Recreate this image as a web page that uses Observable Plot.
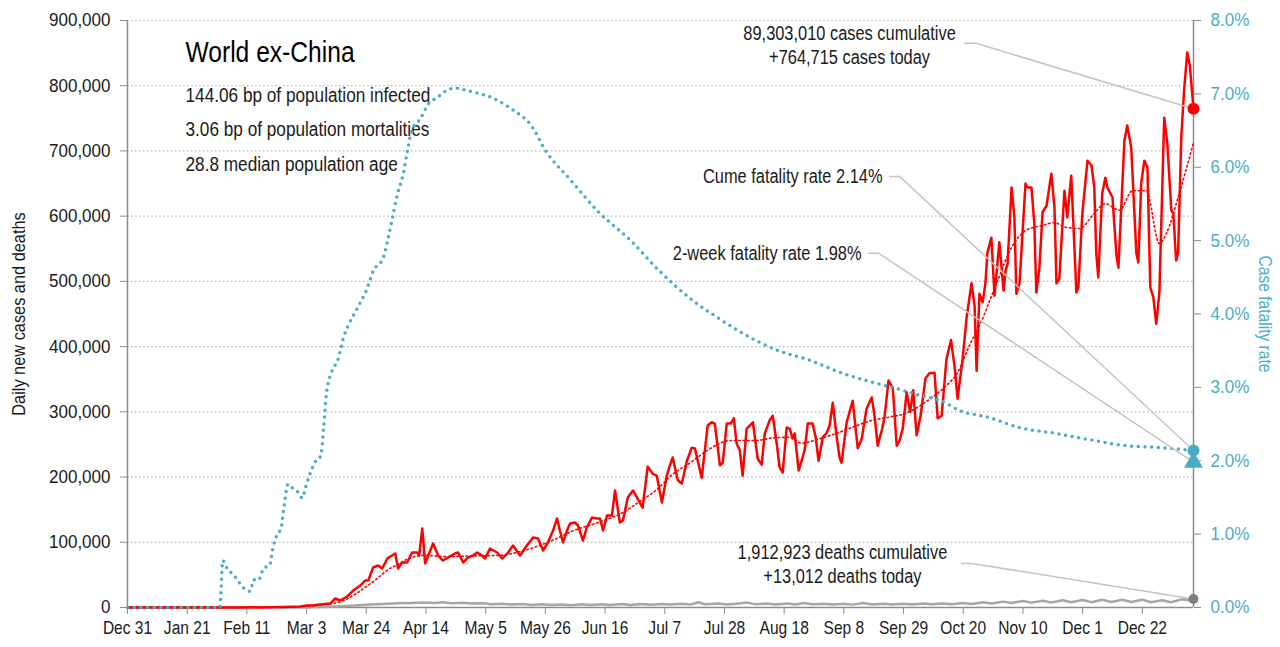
<!DOCTYPE html>
<html><head><meta charset="utf-8">
<script src="https://cdn.jsdelivr.net/npm/d3@7"></script>
<script src="https://cdn.jsdelivr.net/npm/@observablehq/plot@0.6"></script>
<style>
html,body{margin:0;padding:0;background:#fff;}
</style></head><body><div id="chart"></div>
<script>
// ---- data (day offsets since 2019-12-31; values in thousands / percent) ----
const startDate = new Date(Date.UTC(2019, 11, 31));
const lastDay = 375;
const tickDays = [0,21,42,63,84,105,126,147,168,189,210,231,252,273,294,315,336,357];

const dailyCases = [[0,0],[20,0.01],[30,0.05],[40,0.1],[50,0.3],[55,0.8],[58,1.2],[60.8,1.5],[63,3],[65.5,3.5],[67.8,4.6],[71.3,6.1],[73.1,13.8],[74.8,10.7],[77.3,16.9],[79.4,26],[81.9,33.7],[83.6,41.4],[84.7,41.4],[86.4,61.3],[88.2,64.4],[89.6,59.8],[91.4,75.1],[94.2,82.8],[95.2,59.8],[96.6,69],[98.4,69],[100.1,84.3],[101.9,84.3],[102.6,79.7],[103.7,121],[104.7,67.5],[105.8,79.7],[107.5,98.1],[109.3,79.7],[111,72],[112.8,76.7],[115.2,82.8],[116.3,84.3],[118.1,69],[119.8,76.7],[121.6,79.7],[123,84.3],[124.7,79.7],[125.8,75.1],[127.5,90.5],[130,84.3],[131.8,75.1],[133.9,84.3],[135.6,95.1],[138.1,79.7],[140.5,95.1],[142.7,107.3],[144.4,105.8],[146.2,87.4],[147.9,99.7],[149.7,118],[151.1,136.5],[152.1,118],[153.2,99.7],[154.6,118],[155.7,128.8],[157.4,130.3],[158.5,125.7],[160.2,102.7],[161.6,122.7],[163.4,138],[165.1,136.5],[166.2,136.5],[167.3,118],[168.7,141],[170.4,141],[171.5,179.4],[173.2,130.3],[174.3,133.4],[176,168.7],[177.8,179.4],[179.2,168.7],[181.2,153],[183,216],[184.8,205],[186.2,202],[188,161],[189.7,202],[190.8,218],[191.8,230],[193.6,195],[195,190],[196.8,225],[198.5,245],[199.6,244],[200.6,225],[202,199],[204.1,279],[205.5,284],[206.6,282],[208.4,218],[209.4,222],[210.8,282],[212.2,282],[213.3,290],[214.3,251],[215.4,241],[216.4,202],[217.8,274],[220,284],[221.7,228],[223.1,219],[224.2,267],[225.9,287],[227,294],[228.4,251],[229.4,215],[230.5,207],[231.9,276],[233,274],[234,259],[234.7,267],[236.1,210],[238.2,241],[239.3,282],[241,282],[242.1,261],[243.1,225],[244.6,261],[246,268],[247,279],[248.1,314],[249.5,261],[250.5,230],[251.2,222],[253,284],[255.1,317],[256.9,244],[258.3,259],[260,305],[261.8,322],[262.8,294],[263.9,248],[265.3,271],[266.3,291],[267.7,348],[269.2,337],[270.6,248],[271.6,256],[272.7,274],[274.1,330],[275.3,300],[276.4,333],[277.6,264],[279,294],[280.7,351],[282.1,359],[283.9,360],[285,290],[286.4,294],[288.1,381],[289.7,410],[291,368],[292,320],[293.7,378],[295.2,445],[296.9,497],[298,462],[298.7,363],[299.7,481],[300.8,468],[301.8,497],[302.5,544],[303.9,567],[305,478],[306.7,560],[308.2,486],[308.9,517],[309.6,527],[311,644],[312,598],[312.7,481],[313.8,497],[315.9,650],[316.6,644],[318,644],[319,589],[319.7,483],[320.8,521],[321.9,606],[323.3,616],[325,665],[326.1,613],[326.8,497],[327.8,504],[329.6,639],[330.6,598],[332,662],[333.8,483],[334.5,491],[335.9,604],[337.7,685],[339.1,678],[340.1,644],[340.8,543],[341.5,506],[342.9,635],[344,659],[344.7,644],[346.5,629],[347.9,540],[348.6,521],[350.7,716],[351.7,739],[353.1,705],[354.9,543],[355.6,529],[356.6,650],[357.7,685],[358.8,675],[359.8,491],[360.9,475],[361.9,435],[363,483],[364.7,751],[365.8,711],[367.2,609],[367.9,604],[368.9,532],[369.6,544],[370.7,721],[371.7,793],[372.8,851],[373.7,831],[375,764.715]];

const weeklyAvgCases = [[0,0],[55,0.5],[60,1],[65,2.5],[70,5],[75,9],[80,20],[84,32],[88,45],[91,56],[95,66],[99,75],[104,80],[112,78],[120,79],[131,80],[140,88],[149,102],[157,118],[166,131],[174,145],[180,162],[186,180],[192,205],[198,222],[204,241],[212,256],[221,256],[227,260],[233,261],[237,252],[243,258],[250,268],[256,278],[262,287],[268,292],[274,298],[279,310],[283,322],[288,340],[292,360],[296,400],[300,435],[305.7,497],[311,552],[316,578],[322,586],[326,590],[330,583],[335,581],[339.5,601],[344,619],[349,609],[353.5,639],[358.4,639],[363,558],[365.4,573],[370,635],[375,713]];

const dailyDeaths = [[0,0],[50,0],[58,0.1],[65,0.4],[70,1],[75,2],[80,3],[85,4.5],[90,5.5],[95,6.5],[100,7],[104,7.5],[108,7],[111,8.2],[114,6.5],[118,7.2],[121,6],[125,6.5],[128,5],[132,5.8],[135,4.5],[139,5.2],[142,4],[146,4.8],[149,3.8],[153,4.6],[156,3.5],[160,4.8],[163,3.8],[167,5],[170,4],[174,5.2],[177,4],[181,5.5],[184,4.2],[188,5.5],[191,4.5],[195,5.8],[198,4.6],[201,8],[203,4.8],[208,6],[211,4.5],[215,6],[218,7.5],[221,4.8],[225,6],[228,4.5],[232,6],[235,4.5],[238,7],[241,4.8],[245,5.8],[248,4.5],[252,5.6],[255,4.4],[259,7],[262,4.6],[266,5.8],[269,4.5],[273,5.8],[276,4.6],[280,6],[283,4.8],[287,6.2],[290,5],[294,7],[297,5.5],[301,8],[304,6.2],[308,9],[311,7],[315,10],[318,7.5],[322,10.5],[325,7.8],[329,11],[332,8],[336,11.5],[339,8.2],[343,11.8],[346,8.5],[350,12],[353,8.5],[357,12],[360,8],[364,11],[367,8],[371,12.5],[373,11],[375,13.012]];

const caseFatalityPct = [[0,0],[32.5,0],[33.5,0.64],[35,0.54],[38,0.41],[41,0.26],[43,0.22],[44.5,0.38],[46,0.37],[48,0.54],[50,0.57],[51,0.78],[52.5,0.98],[54,1.08],[55,1.36],[56.5,1.68],[58,1.63],[60,1.57],[61.5,1.49],[62.5,1.62],[64,1.8],[66,1.98],[68,2.07],[69,2.45],[70,2.92],[72,3.23],[74,3.37],[76,3.68],[78,3.87],[81,4.09],[84,4.32],[86.5,4.59],[90,4.77],[91.5,5.0],[93,5.27],[95,5.64],[97,5.91],[98.5,6.23],[100,6.5],[103,6.66],[106,6.87],[109,6.95],[112,7.04],[115,7.08],[120,7.04],[128,6.95],[136,6.77],[142,6.57],[147,6.23],[156,5.82],[166,5.38],[177,5.0],[187,4.59],[199,4.18],[208,3.94],[221,3.64],[229,3.5],[240,3.37],[251,3.2],[261,3.08],[269,3.0],[279,2.89],[286,2.82],[293,2.68],[303,2.59],[314,2.45],[327,2.37],[338,2.29],[350,2.21],[363,2.18],[375,2.14]];

const twoWeekFatalityPct = 1.98;

const titleText = "World ex-China";
const subtitleLines = ["144.06 bp of population infected","3.06 bp of population mortalities","28.8 median population age"];
const casesNote = "89,303,010 cases cumulative\n+764,715 cases today";
const cumeNote = "Cume fatality rate 2.14%";
const twoWeekNote = "2-week fatality rate 1.98%";
const deathsNote = "1,912,923 deaths cumulative\n+13,012 deaths today";

const leftTicks = [0,100000,200000,300000,400000,500000,600000,700000,800000,900000];
const pctTicks = [0,1,2,3,4,5,6,7,8];

// ---- build ----
const toDate = d => new Date(startDate.getTime() + d * 864e5);
const pctUnit = 900000 / 8; // 1% on right axis
const rows = (arr, k) => arr.map(([d, v]) => ({date: toDate(d), v: v * k}));
const cases = rows(dailyCases, 1000);
const avg = rows(weeklyAvgCases, 1000);
const deaths = rows(dailyDeaths, 1000);
const cfr = rows(caseFatalityPct, pctUnit);
const lastCase = cases[cases.length - 1];
const lastDeath = deaths[deaths.length - 1];
const lastCfr = cfr[cfr.length - 1];
const twoWeek = {date: toDate(lastDay), v: twoWeekFatalityPct * pctUnit};

const FONT = '"Liberation Sans", Arial, sans-serif';
const TEAL = "#4bacc6";
const AXIS = "#8c8c8c";
const LEAD = "#c4c4c4";
const INK = "#1a1a1a";

const chart = Plot.plot({
  width: 1280, height: 647,
  marginLeft: 127, marginRight: 87, marginTop: 20, marginBottom: 40,
  style: {fontFamily: FONT, fontSize: "18.5px", color: INK, background: "#fff", overflow: "visible"},
  x: {type: "utc", domain: [startDate, toDate(lastDay)]},
  y: {domain: [0, 900000]},
  marks: [
    Plot.ruleY(leftTicks.slice(1), {stroke: "#b8b8b8", strokeWidth: 1.2, strokeDasharray: "1.5,2.5"}),
    Plot.axisX(tickDays.map(toDate), {tickSize: 7, tickPadding: 6, stroke: AXIS, tickFormat: d3.utcFormat("%b %-d"), label: null}),
    Plot.axisY(leftTicks, {anchor: "left", tickSize: 7, tickPadding: 10, stroke: AXIS, tickFormat: d3.format(","), label: null}),
    Plot.axisY(pctTicks.map(p => p * pctUnit), {anchor: "right", tickSize: 7, tickPadding: 10, stroke: AXIS, fill: TEAL, tickFormat: v => (v / pctUnit).toFixed(1) + "%", label: null}),
    Plot.ruleX([startDate, toDate(lastDay)], {stroke: AXIS, strokeWidth: 1.5}),
    Plot.ruleY([0], {stroke: AXIS, strokeWidth: 1.5}),
    Plot.text(["Daily new cases and deaths"], {frameAnchor: "left", dx: -109, rotate: -90, textAnchor: "middle", lineAnchor: "middle", fontSize: 19, fill: INK}),
    Plot.text(["Case fatality rate"], {frameAnchor: "right", dx: 72, rotate: 90, textAnchor: "middle", lineAnchor: "middle", fontSize: 19, fill: TEAL}),
    // title block
    Plot.text([titleText], {frameAnchor: "top-left", dx: 58, dy: 32, lineAnchor: "middle", fontSize: 30, fill: "#000"}),
    ...subtitleLines.map((s, i) => Plot.text([s], {frameAnchor: "top-left", dx: 58, dy: 75 + i * 34.5, lineAnchor: "middle", fontSize: 20, fill: INK})),
    // data lines
    Plot.line(deaths, {x: "date", y: "v", stroke: "#a6a6a6", strokeWidth: 2.5}),
    Plot.line(cases, {x: "date", y: "v", stroke: "#ff0000", strokeWidth: 2.5, strokeLinejoin: "round"}),
    Plot.line(avg, {x: "date", y: "v", stroke: "#ff0000", strokeWidth: 1.6, strokeDasharray: "1.6,2.8", curve: "monotone-x"}),
    Plot.line(cfr, {x: "date", y: "v", stroke: TEAL, strokeWidth: 3.5, strokeDasharray: "0,6.7", strokeLinecap: "round", curve: "monotone-x"}),
    // annotations
    Plot.text([casesNote], {x: () => toDate(254), y: () => 863000, lineHeight: 1.2, fontSize: 20, textAnchor: "middle", lineAnchor: "middle", fill: INK}),
    Plot.line([{date: toDate(294.5), v: 865000}, {date: toDate(298.5), v: 865000}, lastCase], {x: "date", y: "v", stroke: LEAD, strokeWidth: 1.5}),
    Plot.text([cumeNote], {x: () => toDate(265.6), y: () => 661000, fontSize: 20, textAnchor: "end", lineAnchor: "middle", fill: INK}),
    Plot.line([{date: toDate(268.2), v: 661000}, {date: toDate(271.6), v: 661000}, lastCfr], {x: "date", y: "v", stroke: LEAD, strokeWidth: 1.5}),
    Plot.text([twoWeekNote], {x: () => toDate(258.2), y: () => 543000, fontSize: 20, textAnchor: "end", lineAnchor: "middle", fill: INK}),
    Plot.line([{date: toDate(260.8), v: 543000}, {date: toDate(264.3), v: 543000}, twoWeek], {x: "date", y: "v", stroke: LEAD, strokeWidth: 1.5}),
    Plot.text([deathsNote], {x: () => toDate(251.5), y: () => 67500, lineHeight: 1.2, fontSize: 20, textAnchor: "middle", lineAnchor: "middle", fill: INK}),
    Plot.line([{date: toDate(293.5), v: 67500}, {date: toDate(297), v: 67500}, lastDeath], {x: "date", y: "v", stroke: LEAD, strokeWidth: 1.5}),
    // end markers
    Plot.dot([lastCase], {x: "date", y: "v", r: 6, fill: "#ff0000"}),
    Plot.dot([lastDeath], {x: "date", y: "v", r: 5, fill: "#7f7f7f"}),
    Plot.dot([lastCfr], {x: "date", y: "v", r: 6, fill: TEAL}),
    Plot.dot([twoWeek], {x: "date", y: "v", r: 7, symbol: "triangle", fill: TEAL})
  ]
});

document.getElementById("chart").appendChild(chart);

// emulate the condensed typeface: narrow every text run horizontally
function squeeze(el, k) {
  const tspans = el.querySelectorAll("tspan");
  const parts = tspans.length ? Array.from(tspans) : [el];
  for (const p of parts) {
    const w = p.getComputedTextLength();
    if (w > 0) {
      p.setAttribute("textLength", (w * k).toFixed(2));
      p.setAttribute("lengthAdjust", "spacingAndGlyphs");
    }
  }
}
const noteWords = /fatality rate|cumulative/;
chart.querySelectorAll("text").forEach(t => {
  const g = t.closest("g[aria-label]");
  const label = g ? g.getAttribute("aria-label") : "";
  const fs = parseFloat(getComputedStyle(t).fontSize);
  let k = 0.86;
  if (label === "y-axis tick label") k = 0.92;
  else if (label === "x-axis tick label") k = 0.84;
  else if (fs >= 28) k = 0.82;
  else if (noteWords.test(t.textContent)) k = 0.82;
  squeeze(t, k);
});
</script>
</body></html>
